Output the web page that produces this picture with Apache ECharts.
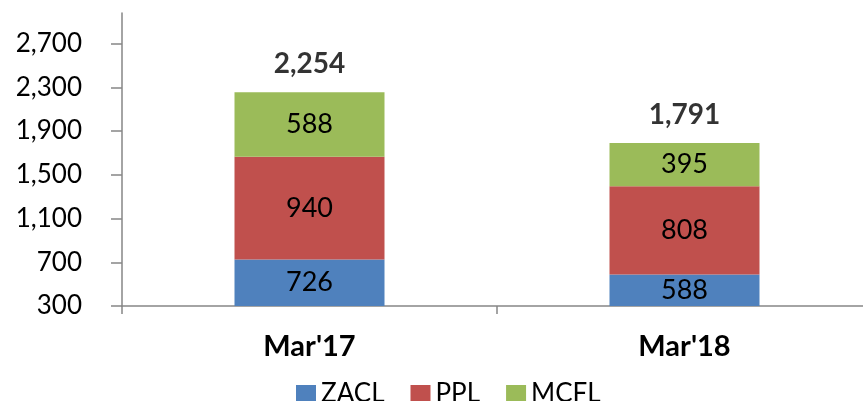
<!DOCTYPE html>
<html>
<head>
<meta charset="utf-8">
<script src="https://cdn.jsdelivr.net/npm/echarts@6/dist/echarts.min.js"></script>
<style>
html, body { margin: 0; padding: 0; background: #fff; }
#main { width: 863px; height: 401px; }
</style>
</head>
<body>
<div id="main"></div>
<script>
// data
var categories = ["Mar'17", "Mar'18"];
var zacl = [726, 588];
var ppl = [940, 808];
var mcfl = [588, 395];
var totals = [2254, 1791];

var font = 'Lato';

function segLabel() {
    return {
        show: true,
        position: 'inside',
        color: '#000',
        fontFamily: font,
        fontSize: 27
    };
}

var option = {
    animation: false,
    textStyle: { fontFamily: font },
    grid: { left: 122, width: 750, top: 13, bottom: 95, outerBoundsMode: 'none' },
    legend: {
        data: ['ZACL', 'PPL', 'MCFL'],
        left: 291,
        top: 376,
        itemWidth: 20,
        itemHeight: 18,
        itemGap: 26,
        textStyle: { fontFamily: font, fontSize: 26, color: '#000' },
        icon: 'rect'
    },
    xAxis: {
        type: 'category',
        data: categories,
        axisLine: { lineStyle: { color: '#868686', width: 1.5 } },
        axisTick: { show: true, length: 8, lineStyle: { color: '#868686', width: 1.5 } },
        axisLabel: { color: '#000', fontFamily: font, fontSize: 29, fontWeight: 'bold', margin: 26 }
    },
    yAxis: {
        type: 'value',
        min: 300,
        max: 2980,
        interval: 400,
        splitLine: { show: false },
        axisLine: { show: true, lineStyle: { color: '#868686', width: 1.5 } },
        axisTick: { show: true, length: 11, lineStyle: { color: '#868686', width: 1.5 } },
        axisLabel: {
            color: '#000', fontFamily: font, fontSize: 26, margin: 40,
            showMaxLabel: false,
            formatter: function (v) { return v.toLocaleString('en-US'); }
        }
    },
    series: [
        { name: 'ZACL', type: 'bar', stack: 'a', barWidth: 150, data: zacl, itemStyle: { color: '#4F81BD' }, label: segLabel() },
        { name: 'PPL', type: 'bar', stack: 'a', data: ppl, itemStyle: { color: '#C0504D' }, label: segLabel() },
        { name: 'MCFL', type: 'bar', stack: 'a', data: mcfl, itemStyle: { color: '#9BBB59' }, label: segLabel() },
        {
            name: 'Total', type: 'scatter', data: totals, symbolSize: 0, silent: true,
            label: {
                show: true, position: 'top', distance: 14, color: '#000',
                fontFamily: font, fontSize: 28, fontWeight: 'bold',
                formatter: function (p) { return p.value.toLocaleString('en-US'); }
            }
        }
    ]
};

var myChart = echarts.init(document.getElementById('main'));
myChart.setOption(option);
</script>
</body>
</html>
